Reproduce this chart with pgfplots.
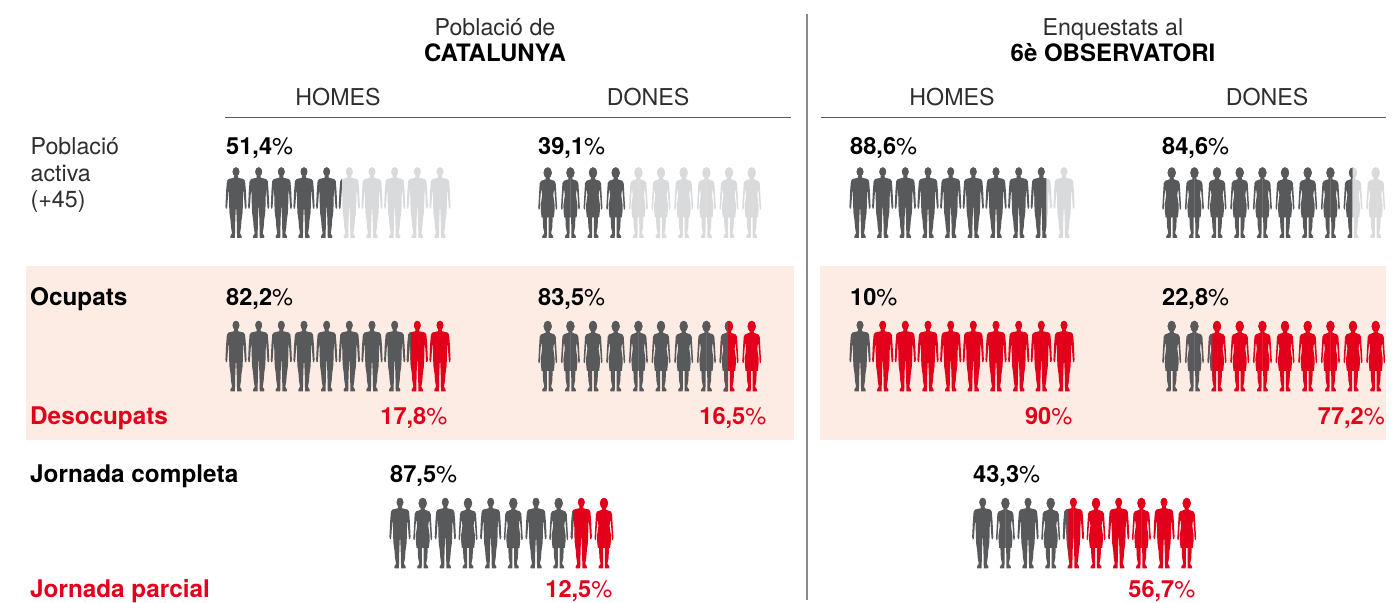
\documentclass[border=0pt]{standalone}
\usepackage{pgfplots}
\pgfplotsset{compat=1.18}
\usepackage{fontspec}
\setmainfont{TeX Gyre Heros}
\definecolor{dk}{HTML}{58595B}
\definecolor{lt}{HTML}{D9DADB}
\definecolor{rd}{HTML}{E2001A}
\definecolor{bg}{HTML}{FCECE4}
\definecolor{ln}{HTML}{8A8A8A}
\definecolor{tx}{HTML}{2E2E2E}
\makeatletter
\def\Mv#1#2#3{\pgfpathmoveto{\pgfpoint{#1*#2pt}{35.25pt-#3pt}}}
\def\Ln#1#2#3{\pgfpathlineto{\pgfpoint{#1*#2pt}{35.25pt-#3pt}}}
\def\manhalf#1{%
 \pgfpathellipse{\pgfpoint{0pt}{30.75pt}}{\pgfpoint{3.4pt}{0pt}}{\pgfpoint{0pt}{4.5pt}}\pgfusepath{fill}%
 \Mv{#1}{-0.1}{8}\Ln{#1}{1.9}{8}\Ln{#1}{2.1}{10.5}\Ln{#1}{7.6}{11.8}\Ln{#1}{9.1}{14}\Ln{#1}{9.9}{24}%
 \Ln{#1}{10.4}{36}\Ln{#1}{10.6}{39}\Ln{#1}{10}{41.5}\Ln{#1}{8.9}{41}\Ln{#1}{8.5}{36}\Ln{#1}{7.9}{27}%
 \Ln{#1}{7.4}{21}\Ln{#1}{7}{30}\Ln{#1}{6.9}{38}\Ln{#1}{6.5}{46}\Ln{#1}{5.5}{53}\Ln{#1}{5}{60}%
 \Ln{#1}{4}{66}\Ln{#1}{5.7}{69}\Ln{#1}{5.5}{70.5}\Ln{#1}{1.1}{70.5}\Ln{#1}{1}{66}\Ln{#1}{0.7}{52}%
 \Ln{#1}{0.2}{41}\Ln{#1}{-0.1}{40}\pgfpathclose\pgfusepath{fill}}
\def\womhalf#1{%
 \pgfpathellipse{\pgfpoint{0pt}{29.75pt}}{\pgfpoint{4.1pt}{0pt}}{\pgfpoint{0pt}{5.5pt}}\pgfusepath{fill}%
 \Mv{#1}{-0.1}{9}\Ln{#1}{1.9}{9}\Ln{#1}{2.1}{12}\Ln{#1}{6.6}{13.6}\Ln{#1}{8}{16}\Ln{#1}{8.6}{26}%
 \Ln{#1}{9.2}{37}\Ln{#1}{9.5}{40}\Ln{#1}{8.9}{42.5}\Ln{#1}{7.9}{41.5}\Ln{#1}{7.5}{33}\Ln{#1}{6.7}{23}%
 \Ln{#1}{6.2}{23}\Ln{#1}{5.6}{28}\Ln{#1}{7}{38}\Ln{#1}{6.8}{44}\Ln{#1}{6.2}{50}\Ln{#1}{5}{50}%
 \Ln{#1}{4.6}{60}\Ln{#1}{3.4}{66}\Ln{#1}{5.5}{69}\Ln{#1}{5.3}{70.5}\Ln{#1}{1}{70.5}\Ln{#1}{0.9}{66}%
 \Ln{#1}{0.8}{50}\Ln{#1}{-0.1}{50}\pgfpathclose\pgfusepath{fill}}
\pgfdeclareplotmark{man}{\manhalf{1}\manhalf{-1}}
\pgfdeclareplotmark{wom}{\womhalf{1}\womhalf{-1}}
% figure drawn only up to a share of its width, from the left
\def\partmark#1#2#3{\pgfdeclareplotmark{#1}{\pgfscope
  \pgfpathrectangle{\pgfpoint{-10.8pt}{-36pt}}{\pgfpoint{#3*21.6pt}{72pt}}\pgfusepath{clip}%
  #2{1}#2{-1}\endpgfscope}}
\partmark{man14}{\manhalf}{0.16}
\partmark{man74}{\manhalf}{0.74}
\partmark{man20}{\manhalf}{0.20}
\partmark{man12}{\manhalf}{0.12}
\partmark{man27}{\manhalf}{0.27}
\partmark{wom47}{\womhalf}{0.47}
\partmark{wom45}{\womhalf}{0.45}
\partmark{wom28}{\womhalf}{0.28}
\makeatother
\newcommand\pct[1]{{\fontsize{23.6}{24}\selectfont\bfseries #1}{\fontsize{23.6}{24}\selectfont\%}}
\tikzset{
  big/.style={font=\fontsize{23.2}{26}\selectfont,text=tx,anchor=base,inner sep=0pt},
  bigb/.style={font=\fontsize{24}{26}\selectfont\bfseries,text=black,anchor=base,inner sep=0pt},
  lab/.style={font=\fontsize{23.2}{26}\selectfont,text=tx,anchor=base west,inner sep=0pt},
  labb/.style={font=\fontsize{24.3}{26}\selectfont\bfseries,text=black,anchor=base west,inner sep=0pt},
  labr/.style={font=\fontsize{24.3}{26}\selectfont\bfseries,text=rd,anchor=base west,inner sep=0pt},
  pl/.style={text=black,anchor=base west,inner sep=0pt},
  pr/.style={text=rd,anchor=base east,inner sep=0pt},
}
\begin{document}
\begin{tikzpicture}
\begin{axis}[
  scale only axis, width=1394pt, height=600pt,
  xmin=0, xmax=1394, ymin=0, ymax=600, y dir=reverse,
  axis lines=none, clip=false,
]
% full extent of the picture (invisible)
\addplot[draw=none] coordinates {(0,0)(1394,0)(1394,600)(0,600)};
% panels
\addplot[fill=bg,draw=none] coordinates {(26,266)(794,266)(794,440)(26,440)};
\addplot[fill=bg,draw=none] coordinates {(820,266)(1386,266)(1386,440)(820,440)};
% rules
\addplot[draw=ln,line width=1.5pt] coordinates {(807,14)(807,600)};
\addplot[draw=dk,line width=1pt] coordinates {(225,117.5)(791,117.5)};
\addplot[draw=dk,line width=1pt] coordinates {(821,117.5)(1386,117.5)};
% men, dark
\addplot[only marks,mark=man,color=dk] coordinates {
 (236,202.5)(258.67,202.5)(281.33,202.5)(304,202.5)(326.67,202.5)
 (860,202.5)(882.7,202.5)(905.3,202.5)(928,202.5)(950.7,202.5)(973.3,202.5)(996,202.5)(1018.7,202.5)
 (236,356)(258.67,356)(281.33,356)(304,356)(326.67,356)(349.33,356)(372,356)(394.67,356)
 (860,356)
 (400,533)(445.3,533)(490.7,533)(536,533)
 (982.7,533)(1028,533)
};
% men, light
\addplot[only marks,mark=man,color=lt] coordinates {
 (349.33,202.5)(372,202.5)(394.67,202.5)(417.33,202.5)(440,202.5)
 (1041.3,202.5)(1064,202.5)
};
% men, red
\addplot[only marks,mark=man,color=rd] coordinates {
 (417.33,356)(440,356)
 (882.7,356)(905.3,356)(928,356)(950.7,356)(973.3,356)(996,356)(1018.7,356)(1041.3,356)(1064,356)
 (581.3,533)
 (1073.4,533)(1118.7,533)(1164,533)
};
% women, dark
\addplot[only marks,mark=wom,color=dk] coordinates {
 (547.7,202.5)(570.4,202.5)(593,202.5)(615.7,202.5)
 (1171.7,202.5)(1194.4,202.5)(1217,202.5)(1239.7,202.5)(1262.4,202.5)(1285,202.5)(1307.7,202.5)(1330.4,202.5)
 (547.7,356)(570.4,356)(593,356)(615.7,356)(638.4,356)(661,356)(683.7,356)(706.4,356)
 (1171.7,356)(1194.4,356)
 (422.7,533)(468,533)(513.3,533)(558.7,533)
 (1005.4,533)(1050.7,533)
};
% women, light
\addplot[only marks,mark=wom,color=lt] coordinates {
 (638.4,202.5)(661,202.5)(683.7,202.5)(706.4,202.5)(729,202.5)(751.7,202.5)
 (1353,202.5)(1375.7,202.5)
};
% women, red
\addplot[only marks,mark=wom,color=rd] coordinates {
 (729,356)(751.7,356)
 (1217,356)(1239.7,356)(1262.4,356)(1285,356)(1307.7,356)(1330.4,356)(1353,356)(1375.7,356)
 (604,533)
 (1096,533)(1141.4,533)(1186.7,533)
};
% figures that are split
\addplot[only marks,mark=man14,color=dk] coordinates {(349.33,202.5)};
\addplot[only marks,mark=man74,color=dk] coordinates {(1041.3,202.5)};
\addplot[only marks,mark=wom47,color=dk] coordinates {(1353,202.5)};
\addplot[only marks,mark=man20,color=dk] coordinates {(417.33,356)};
\addplot[only marks,mark=wom45,color=dk] coordinates {(729,356)};
\addplot[only marks,mark=wom28,color=dk] coordinates {(1217,356)};
\addplot[only marks,mark=man12,color=dk] coordinates {(581.3,533)};
\addplot[only marks,mark=man27,color=dk] coordinates {(1073.4,533)};
% headers
\node[big] at (axis cs:495,35) {Població de};
\node[bigb] at (axis cs:495,61) {CATALUNYA};
\node[big] at (axis cs:1113,35) {Enquestats al};
\node[bigb] at (axis cs:1113,61) {6è OBSERVATORI};
\node[big] at (axis cs:338,105) {HOMES};
\node[big] at (axis cs:648,105) {DONES};
\node[big] at (axis cs:952,105) {HOMES};
\node[big] at (axis cs:1267,105) {DONES};
% row labels
\node[lab] at (axis cs:30.5,154) {Població};
\node[lab] at (axis cs:30.5,181) {activa};
\node[lab] at (axis cs:30.5,207.5) {(+45)};
\node[labb] at (axis cs:30,305) {Ocupats};
\node[labr] at (axis cs:30,424) {Desocupats};
\node[labb] at (axis cs:30,482) {Jornada completa};
\node[labr] at (axis cs:30,597) {Jornada parcial};
% percentages
\node[pl] at (axis cs:226,154) {\pct{51,4}};
\node[pl] at (axis cs:538,154) {\pct{39,1}};
\node[pl] at (axis cs:850,154) {\pct{88,6}};
\node[pl] at (axis cs:1162,154) {\pct{84,6}};
\node[pl] at (axis cs:226,305) {\pct{82,2}};
\node[pl] at (axis cs:538,305) {\pct{83,5}};
\node[pl] at (axis cs:850,305) {\pct{10}};
\node[pl] at (axis cs:1162,305) {\pct{22,8}};
\node[pr] at (axis cs:447.5,424) {\pct{17,8}};
\node[pr] at (axis cs:766.5,424) {\pct{16,5}};
\node[pr] at (axis cs:1072.5,424) {\pct{90}};
\node[pr] at (axis cs:1385,424) {\pct{77,2}};
\node[pl] at (axis cs:390,482) {\pct{87,5}};
\node[pl] at (axis cs:973,482) {\pct{43,3}};
\node[pr] at (axis cs:612.5,597) {\pct{12,5}};
\node[pr] at (axis cs:1195.5,597) {\pct{56,7}};
\end{axis}
\end{tikzpicture}
\end{document}
